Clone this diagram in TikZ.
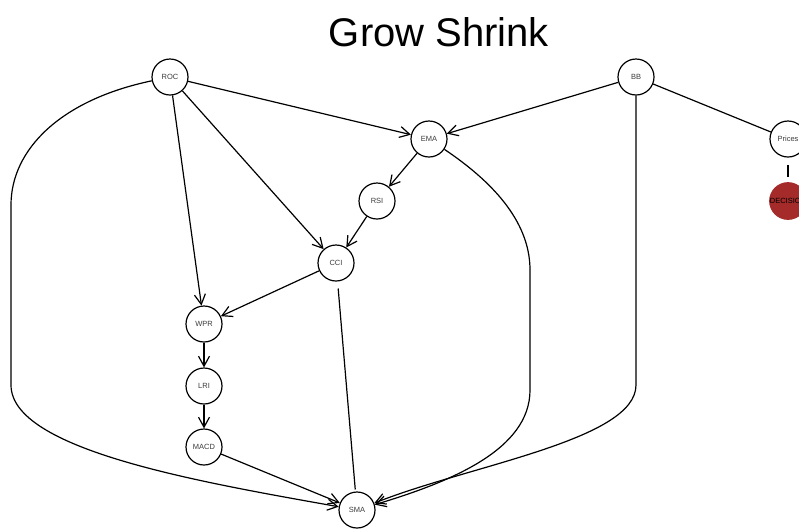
\documentclass[tikz,border=0pt]{standalone}
\usepackage{fontspec}
\setmainfont{Liberation Sans}
\usetikzlibrary{arrows.meta}
\definecolor{labelgray}{RGB}{60, 60, 60}
\definecolor{decisionred}{RGB}{165, 42, 42}

\begin{document}
\begin{tikzpicture}[x=1pt, y=-1pt,
        var/.style={draw, circle, line width=1.2pt, minimum size=36pt, inner sep=0pt, font=\fontsize{7.5}{8}\selectfont, text=labelgray},
        edge/.style={line width=1.2pt},
        dir/.style={edge, -{Straight Barb[length=10pt, width=11pt, line width=1.2pt]}}
      ]
        \useasboundingbox (0,0) rectangle (799,528);
        \clip (0,0) rectangle (799,528);
        \node[font=\fontsize{40}{48}\selectfont] (title) at (439,32) {Grow Shrink};

        \node[var] (roc) at (170,77) {ROC};
        \node[var] (bb) at (636,77) {BB};
        \node[var] (ema) at (429,139) {EMA};
        \node[var] (prices) at (788,139) {Prices};
        \node[var, fill=decisionred, draw=decisionred, text=black] (decision) at (788,201) {DECISION};
        \node[var] (rsi) at (377,201) {RSI};
        \node[var] (cci) at (336,263) {CCI};
        \node[var] (wpr) at (204,324) {WPR};
        \node[var] (lri) at (204,386) {LRI};
        \node[var] (macd) at (204,447) {MACD};
        \node[var] (sma) at (357,510) {SMA};

        % bend points of the long arcs
        \coordinate (lefttop) at (11,205);
        \coordinate (leftbot) at (11,385);
        \coordinate (emadown) at (530,270);
        \coordinate (emabot) at (530,390);
        \coordinate (bbbot) at (636,385);

        \draw[dir] (roc) -- (ema);
        \draw[dir] (roc) -- (cci);
        \draw[dir] (roc) -- (wpr);
        \draw[dir] (bb) -- (ema);
        \draw[edge] (bb) -- (prices);
        \draw[edge, shorten <=7pt, shorten >=5pt] (prices) -- (decision);
        \draw[dir] (ema) -- (rsi);
        \draw[dir] (rsi) -- (cci);
        \draw[dir] (cci) -- (wpr);
        \draw[edge, shorten <=7pt, shorten >=2pt] (cci) -- (sma);
        \draw[dir] (wpr) -- (lri);
        \draw[dir] (lri) -- (macd);
        \draw[dir] (macd) -- (sma);

        \draw[dir] (roc) .. controls (60,100) and (11,150) .. (lefttop) -- (leftbot)
          .. controls (11,450) and (200,482) .. (sma);
        \draw[dir] (ema) .. controls (490,180) and (530,220) .. (emadown) -- (emabot)
          .. controls (530,450) and (450,482) .. (sma);
        \draw[dir] (bb.south) -- (bbbot) .. controls (636,440) and (470,465) .. (sma);
      \end{tikzpicture}
\end{document}
